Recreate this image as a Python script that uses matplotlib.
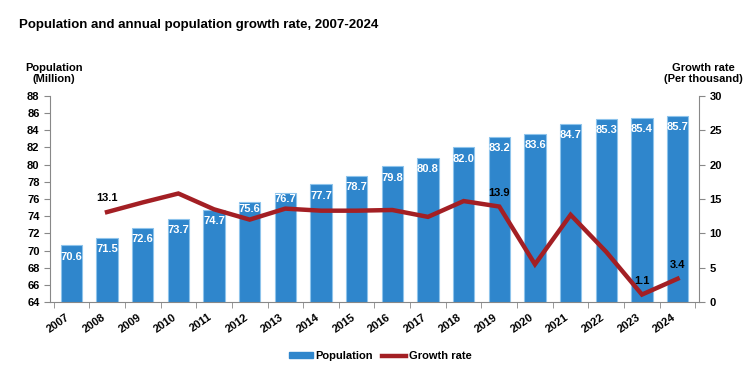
import matplotlib
matplotlib.use("Agg")
import matplotlib.pyplot as plt
import numpy as np
from matplotlib.lines import Line2D
from matplotlib.patches import Patch

years = [str(y) for y in range(2007, 2025)]
population = [70.6, 71.5, 72.6, 73.7, 74.7, 75.6, 76.7, 77.7, 78.7, 79.8, 80.8, 82.0, 83.2, 83.6, 84.7, 85.3, 85.4, 85.7]
growth_years = years[1:]
growth = [13.1, 14.5, 15.8, 13.5, 12.0, 13.6, 13.3, 13.3, 13.4, 12.4, 14.7, 13.9, 5.5, 12.7, 7.3, 1.1, 3.4]
growth_labeled = {"2008": "13.1", "2019": "13.9", "2023": "1.1", "2024": "3.4"}

plt.rcParams['font.family'] = ['Liberation Sans', 'DejaVu Sans']
plt.rcParams['font.weight'] = 'bold'

fig = plt.figure(figsize=(7.48, 3.73), dpi=100)
ax = fig.add_axes([0.0668, 0.190, 0.8677, 0.553])
x = np.arange(len(years))
bar_color = '#2F86CC'
line_color = '#A31F24'
bars = ax.bar(x, population, width=0.6, color=bar_color, edgecolor='#8EC4EC', linewidth=0.8, zorder=2)
ax.set_ylim(64, 88)
ax.set_yticks(np.arange(64, 89, 2))
ax.set_xlim(-0.6, len(years) - 0.4)
ax.set_xticks(x)
ax.set_xticklabels(years, rotation=35, fontsize=8, fontweight='bold', ha='right', va='top')
ax.set_xticks(np.arange(-0.5, len(years), 1), minor=True)
ax.tick_params(axis='x', which='major', length=0, pad=7)
ax.tick_params(axis='x', which='minor', length=4, color='#888888')
ax.tick_params(axis='y', labelsize=8, length=4, color='#888888')
for lab in ax.get_yticklabels():
    lab.set_fontweight('bold')
for s in ['top', 'right']:
    ax.spines[s].set_visible(False)
for s in ['left', 'bottom']:
    ax.spines[s].set_color('#888888')

raised = {"2012", "2013"}  # labels nudged up to clear the line, as in the original
for xi, yr, v in zip(x, years, population):
    off = 0.75 if yr in raised else 1.3
    ax.text(xi, v - off, f"{v:.1f}", ha='center', va='center', color='white', fontsize=8, fontweight='bold', zorder=3)

ax2 = ax.twinx()
ax2.set_ylim(0, 30)
ax2.set_yticks(np.arange(0, 31, 5))
gx = [years.index(y) for y in growth_years]
ax2.plot(gx, growth, color=line_color, linewidth=3.2, solid_joinstyle='miter', zorder=4)
for s in ['top', 'left', 'bottom']:
    ax2.spines[s].set_visible(False)
ax2.spines['right'].set_color('#888888')
ax2.tick_params(axis='y', labelsize=8, length=4, color='#888888')
for lab in ax2.get_yticklabels():
    lab.set_fontweight('bold')
for yr, lab in growth_labeled.items():
    i = years.index(yr)
    v = growth[growth_years.index(yr)]
    ax2.text(i, v + 1.3, lab, ha='center', va='bottom', fontsize=8, fontweight='bold', color='black', zorder=5)

fig.text(0.026, 0.934, "Population and annual population growth rate, 2007-2024", fontsize=9.5, fontweight='bold', ha='left', va='center')
fig.text(0.072, 0.803, "Population\n(Million)", fontsize=8, fontweight='bold', ha='center', va='center', linespacing=1.05)
fig.text(0.94, 0.803, "Growth rate\n(Per thousand)", fontsize=8, fontweight='bold', ha='center', va='center', linespacing=1.05)

handles = [Patch(color=bar_color, label='Population'), Line2D([0], [0], color=line_color, linewidth=3.2, label='Growth rate')]
fig.legend(handles=handles, loc='center', bbox_to_anchor=(0.508, 0.045), ncol=2, frameon=False, fontsize=8,
           handlelength=2.2, handleheight=0.5, columnspacing=0.8, handletextpad=0.2)

fig.savefig("out.png", dpi=100)
